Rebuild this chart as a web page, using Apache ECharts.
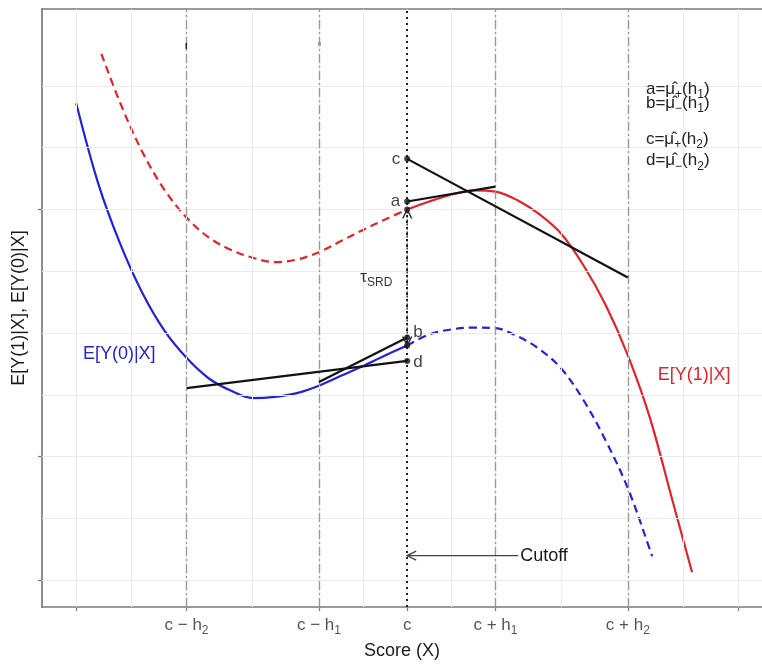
<!DOCTYPE html>
<html>
<head>
<meta charset="utf-8">
<script src="https://cdn.jsdelivr.net/npm/echarts@6/dist/echarts.min.js"></script>
<style>
  html, body { margin: 0; padding: 0; background: #ffffff; }
  #chart { width: 762px; height: 665px; }
</style>
</head>
<body>
<div id="chart"></div>
<script>
// ---- Axis breaks and grid ----
const xBreaks = [-15, -10, -4, 0, 4, 10, 15];
const xTickLabels = ['', 'c − h|2', 'c − h|1', 'c', 'c + h|1', 'c + h|2', ''];
const xMinorGrid = [-12.5, -7, -2, 2, 7, 12.5];
const yBreaks = [0, 2, 6];
const yGrid = [0, 1, 2, 3, 4, 5, 6, 7, 8];
const cutoff = 0;
const bandwidthLines = [-10, -4, 4, 10];

// ---- Potential outcome curves: E[Y(0)|X] and E[Y(1)|X] ----
// Control outcome: observed left of the cutoff (solid), unobserved right of it (dashed)
const y0Observed = [
  [-15, 7.72], [-14, 6.42], [-13, 5.44], [-12, 4.65], [-11, 4.04], [-10, 3.60],
  [-9, 3.27], [-8, 3.07], [-7, 2.95], [-6, 2.97], [-5, 3.03], [-4, 3.15],
  [-3, 3.31], [-2, 3.47], [-1, 3.64], [0, 3.80]
];
const y0Counterfactual = [
  [0, 3.80], [1, 3.98], [2, 4.06], [3, 4.09], [4, 4.08], [5, 3.95], [6, 3.74],
  [7, 3.42], [8, 2.91], [9, 2.26], [10, 1.49], [11, 0.50], [11.1, 0.39]
];
// Treated outcome: unobserved left of the cutoff (dashed), observed right of it (solid)
const y1Counterfactual = [
  [-13.86, 8.52], [-13, 7.72], [-12, 6.93], [-11, 6.32], [-10, 5.87], [-9, 5.55],
  [-8, 5.35], [-7, 5.22], [-6, 5.15], [-5, 5.19], [-4, 5.31], [-3, 5.49],
  [-2, 5.67], [-1, 5.84], [0, 6.00]
];
const y1Observed = [
  [0, 6.00], [1, 6.13], [2, 6.24], [3, 6.31], [4, 6.29], [5, 6.15], [6, 5.92],
  [7, 5.60], [8, 5.09], [9, 4.45], [10, 3.64], [11, 2.63], [12, 1.32], [12.91, 0.13]
];

// ---- Local linear fits inside each bandwidth ----
const fitA = [[0, 6.13], [4, 6.37]];    // right of cutoff, bandwidth h1
const fitB = [[-4, 3.21], [0, 3.93]];   // left of cutoff, bandwidth h1
const fitC = [[0, 6.82], [10, 4.90]];   // right of cutoff, bandwidth h2
const fitD = [[-10, 3.11], [0, 3.55]];  // left of cutoff, bandwidth h2

const cutoffArrowY = 0.40;
const cutoffArrowFrom = 5.03;

const FONT = '"Liberation Sans", Arial, Helvetica, sans-serif';
const BLUE = '#2222d8';
const RED = '#e3232b';
const INK = '#1a1a1a';

// rich styles for ECharts labels (color) and for raw zrender text (fill)
function subRich(color, big, small) {
  return {
    t: { fontFamily: FONT, fontSize: big, color: color, lineHeight: big + 6 },
    s: { fontFamily: FONT, fontSize: small, color: color, lineHeight: small, verticalAlign: 'bottom' }
  };
}
function subRichZ(color, big, small) {
  return {
    t: { fontFamily: FONT, fontSize: big, fill: color, lineHeight: big + 6 },
    s: { fontFamily: FONT, fontSize: small, fill: color, lineHeight: small, verticalAlign: 'bottom' }
  };
}
function richText(str) {
  if (!str) return '';
  const parts = str.split('|');
  return parts[1] ? '{t|' + parts[0] + '}{s|' + parts[1] + '}' : '{t|' + parts[0] + '}';
}

// Values on the cutoff line
const atCutoff = {
  c: fitC[0], a: fitA[0], mu1: y1Observed[0],
  b: fitB[fitB.length - 1], mu0: y0Observed[y0Observed.length - 1], d: fitD[fitD.length - 1]
};

// Text annotations (anchor in data space)
const annotations = [
  { x: -13.05, y: 3.66, text: '{t|E[Y(0)|X]}', rich: subRichZ(BLUE, 18, 12), align: 'center' },
  { x: 13.0, y: 3.32, text: '{t|E[Y(1)|X]}', rich: subRichZ(RED, 18, 12), align: 'center' },
  { x: -1.40, y: 4.90, text: '{t|τ}{s|SRD}', rich: subRichZ('#333333', 17, 12), align: 'center' },
  { x: 5.12, y: cutoffArrowY, text: '{t|Cutoff}', rich: subRichZ(INK, 18, 12), align: 'left' },
  { x: 10.82, y: 7.95, text: '{t|a=μ̂}{s|+}{t|(h}{s|1}{t|)}', rich: subRichZ('#222222', 17, 12), align: 'left' },
  { x: 10.82, y: 7.72, text: '{t|b=μ̂}{s|−}{t|(h}{s|1}{t|)}', rich: subRichZ('#222222', 17, 12), align: 'left' },
  { x: 10.82, y: 7.14, text: '{t|c=μ̂}{s|+}{t|(h}{s|2}{t|)}', rich: subRichZ('#222222', 17, 12), align: 'left' },
  { x: 10.82, y: 6.79, text: '{t|d=μ̂}{s|−}{t|(h}{s|2}{t|)}', rich: subRichZ('#222222', 17, 12), align: 'left' },
  { x: -10.01, y: 8.64, text: '{t|ı}', rich: { t: { fontFamily: FONT, fontSize: 11, fontWeight: 'bold', fill: '#222' } }, align: 'center' },
  { x: -3.94, y: 8.68, text: '{t|=}', rich: { t: { fontFamily: FONT, fontSize: 8, fill: '#666' } }, align: 'center', rotate: Math.PI / 2 }
];

// Arrows: the jump at the cutoff (double-headed) and the cutoff pointer
const arrows = [
  { from: atCutoff.mu0, to: atCutoff.mu1, both: true, color: '#222222', width: 1.4, dash: [2, 2] },
  { from: [cutoffArrowFrom, cutoffArrowY], to: [cutoff, cutoffArrowY], both: false, color: '#444444', width: 1.3, dash: null }
];

const chart = echarts.init(document.getElementById('chart'), null, { renderer: 'canvas' });

const X_MIN = -16.55, X_MAX = 16.08, Y_MIN = -0.433, Y_MAX = 9.245;
const AXIS_GREY = '#7a7a7a';

function refLine(dataDefs, style, z) {
  return {
    type: 'line', data: [], silent: true, z: z,
    markLine: {
      silent: true, symbol: 'none', animation: false,
      label: { show: false },
      lineStyle: style,
      emphasis: { disabled: true },
      data: dataDefs
    }
  };
}

function curve(data, color, dashed) {
  return {
    type: 'line', data: data, smooth: 0.35, showSymbol: false, silent: true, z: 4,
    lineStyle: { color: color, width: 2.2, type: dashed ? [8, 5] : 'solid' }
  };
}

function fitLine(data) {
  return {
    type: 'line', data: data, showSymbol: false, silent: true, z: 5,
    lineStyle: { color: '#111111', width: 2.2 }
  };
}

const pointLabels = [
  { p: atCutoff.c, name: 'c', pos: 'left', offset: [0, 0] },
  { p: atCutoff.a, name: 'a', pos: 'left', offset: [0, 0] },
  { p: atCutoff.mu1, name: '', pos: 'left', offset: [0, 0] },
  { p: atCutoff.b, name: 'b', pos: 'right', offset: [-1, -5] },
  { p: atCutoff.mu0, name: '', pos: 'right', offset: [0, 0] },
  { p: atCutoff.d, name: 'd', pos: 'right', offset: [-1, 1] }
];

const option = {
  animation: false,
  backgroundColor: '#ffffff',
  grid: { left: 42, right: 0, top: 9, bottom: 53, containLabel: false },
  xAxis: [
    {
      type: 'value', min: X_MIN, max: X_MAX, position: 'bottom',
      axisLine: { show: true, onZero: false, lineStyle: { color: AXIS_GREY, width: 1.7 } },
      axisTick: { show: true, customValues: xBreaks, length: 4, lineStyle: { color: AXIS_GREY, width: 1.2 } },
      axisLabel: {
        show: true, customValues: xBreaks, margin: 7,
        formatter: function (v) {
          const i = xBreaks.findIndex(b => Math.abs(b - v) < 1e-6);
          return i >= 0 ? richText(xTickLabels[i]) : '';
        },
        rich: subRich('#555555', 17, 12)
      },
      splitLine: { show: false },
      name: 'Score (X)', nameLocation: 'middle', nameGap: 29,
      nameTextStyle: { fontFamily: FONT, fontSize: 18, color: INK }
    },
    {
      type: 'value', min: X_MIN, max: X_MAX, position: 'top',
      axisLine: { show: true, onZero: false, lineStyle: { color: AXIS_GREY, width: 1.7 } },
      axisTick: { show: false }, axisLabel: { show: false }, splitLine: { show: false }
    }
  ],
  yAxis: {
    type: 'value', min: Y_MIN, max: Y_MAX,
    axisLine: { show: true, onZero: false, lineStyle: { color: AXIS_GREY, width: 1.7 } },
    axisTick: { show: true, customValues: yBreaks, length: 4, lineStyle: { color: AXIS_GREY, width: 1.2 } },
    axisLabel: { show: false },
    splitLine: { show: false },
    name: 'E[Y(1)|X], E[Y(0)|X]', nameLocation: 'middle', nameGap: 14, nameRotate: 90,
    nameTextStyle: { fontFamily: FONT, fontSize: 18, color: INK }
  },
  series: [
    // background grid
    refLine(
      xBreaks.concat(xMinorGrid).map(v => ({ xAxis: v })).concat(yGrid.map(v => ({ yAxis: v }))),
      { color: '#ebebeb', width: 1, type: 'solid' }, 1
    ),
    // bandwidth boundaries
    refLine(bandwidthLines.map(v => ({ xAxis: v })),
      { color: '#9a9a9a', width: 1.4, type: [9, 3, 2, 3] }, 2),
    // cutoff
    refLine([{ xAxis: cutoff }], { color: '#222222', width: 2, type: [2, 4] }, 2),

    curve(y1Counterfactual, RED, true),
    curve(y1Observed, RED, false),
    curve(y0Observed, BLUE, false),
    curve(y0Counterfactual, BLUE, true),

    fitLine(fitA), fitLine(fitB), fitLine(fitC), fitLine(fitD),

    {
      type: 'scatter', silent: true, z: 6, symbolSize: 6,
      itemStyle: { color: '#111111' },
      data: pointLabels.map(d => ({
        value: d.p,
        label: {
          show: !!d.name, formatter: d.name, position: d.pos, distance: 4, offset: d.offset,
          fontFamily: FONT, fontSize: 17, color: '#111111'
        }
      }))
    },

    {
      type: 'custom', silent: true, z: 7, coordinateSystem: 'cartesian2d',
      data: arrows.map(a => [a.from[0], a.from[1], a.to[0], a.to[1]]),
      renderItem: function (params, api) {
        const spec = arrows[params.dataIndex];
        const p1 = api.coord([api.value(0), api.value(1)]);
        const p2 = api.coord([api.value(2), api.value(3)]);
        const head = function (tip, from) {
          const dx = tip[0] - from[0], dy = tip[1] - from[1];
          const len = Math.hypot(dx, dy) || 1;
          const ux = dx / len, uy = dy / len, L = 9, W = 4.5;
          return {
            type: 'polyline',
            shape: { points: [[tip[0] - ux * L - uy * W, tip[1] - uy * L + ux * W], tip,
                              [tip[0] - ux * L + uy * W, tip[1] - uy * L - ux * W]] },
            style: { stroke: spec.color, lineWidth: 1.4, fill: null }
          };
        };
        const children = [{
          type: 'line', shape: { x1: p1[0], y1: p1[1], x2: p2[0], y2: p2[1] },
          style: { stroke: spec.color, lineWidth: spec.width, lineDash: spec.dash }
        }, head(p2, p1)];
        if (spec.both) children.push(head(p1, p2));
        return { type: 'group', children: children };
      }
    },

    {
      type: 'custom', silent: true, z: 8, coordinateSystem: 'cartesian2d',
      data: annotations.map(a => [a.x, a.y]),
      renderItem: function (params, api) {
        const a = annotations[params.dataIndex];
        const p = api.coord([api.value(0), api.value(1)]);
        return {
          type: 'text', x: p[0], y: p[1], rotation: a.rotate || 0,
          style: { text: a.text, rich: a.rich, align: a.align, verticalAlign: 'middle' }
        };
      }
    }
  ]
};

chart.setOption(option);
</script>
</body>
</html>
